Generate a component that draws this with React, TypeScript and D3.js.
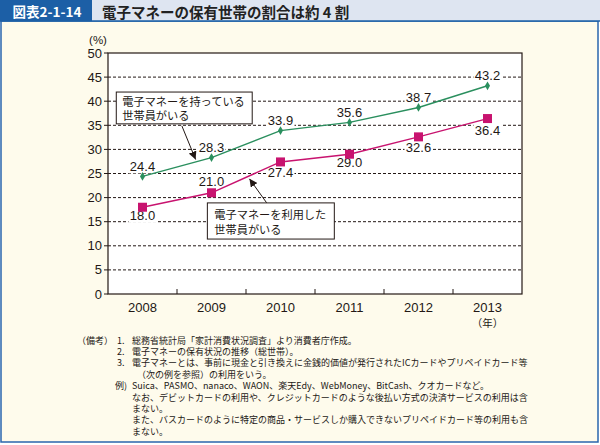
import React from "react";
import * as d3 from "d3";

const years = ["2008", "2009", "2010", "2011", "2012", "2013"];
const holdValues = [24.4, 28.3, 33.9, 35.6, 38.7, 43.2];
const usedValues = [18.0, 21.0, 27.4, 29.0, 32.6, 36.4];
const yTicks = [0, 5, 10, 15, 20, 25, 30, 35, 40, 45, 50];
const usedLabelSide = ["below", "above", "below", "below", "below", "below"];

const titleBadge = "図表2-1-14";
const titleText = "電子マネーの保有世帯の割合は約 4 割";
const holdCallout = ["電子マネーを持っている", "世帯員がいる"];
const usedCallout = ["電子マネーを利用した", "世帯員がいる"];
const notes = [
  { head: "（備考）", num: "1.", text: "総務省統計局「家計消費状況調査」より消費者庁作成。" },
  { head: "", num: "2.", text: "電子マネーの保有状況の推移（総世帯）。" },
  { head: "", num: "3.", text: "電子マネーとは、事前に現金と引き換えに金銭的価値が発行されたICカードやプリペイドカード等" },
  { head: "", num: "", text: "（次の例を参照）の利用をいう。", indent: true },
  { head: "", num: "例)", text: "Suica、PASMO、nanaco、WAON、楽天Edy、WebMoney、BitCash、クオカードなど。" },
  { head: "", num: "", text: "なお、デビットカードの利用や、クレジットカードのような後払い方式の決済サービスの利用は含" },
  { head: "", num: "", text: "まない。" },
  { head: "", num: "", text: "また、バスカードのように特定の商品・サービスしか購入できないプリペイドカード等の利用も含" },
  { head: "", num: "", text: "まない。" },
];

const W = 600;
const H = 445;
const plot = { left: 108, right: 522, top: 53, bottom: 294 };
const GREEN = "#2a8f5e";
const PINK = "#c8136f";
const JP = "'Noto Sans CJK JP', 'Noto Sans', sans-serif";
const NUM = "'Liberation Sans', Arial, sans-serif";

export default function App() {
  const x = d3.scaleBand<string>().domain(years).range([plot.left, plot.right]).padding(0);
  const cx = (i: number) => (x(years[0]) as number) + x.bandwidth() * (i + 0.5);
  const y = d3.scaleLinear().domain([0, 50]).range([plot.bottom, plot.top]);

  const line = d3
    .line<number>()
    .x((_, i) => cx(i))
    .y((d) => y(d));

  const diamond = d3.symbol().type(d3.symbolDiamond).size(22)();

  const labelBox = (lx: number, ly: number, txt: string, key: string) => (
    <g key={key}>
      <rect x={lx - 14} y={ly - 7} width={28} height={14} fill="#fff" />
      <text x={lx} y={ly} textAnchor="middle" dominantBaseline="central" fontFamily={NUM} fontSize={13} fill="#231815">
        {txt}
      </text>
    </g>
  );

  // callouts in data coordinates
  const c1 = { x0: cx(-0.38), x1: cx(1.59), y0: y(41.9), y1: y(35.3) };
  const c2 = { x0: cx(0.94), x1: cx(2.78), y0: y(18.9), y1: y(11.4) };

  return (
    <svg width={W} height={H} style={{ position: "absolute", left: 0, top: 0 }}>
      <defs>
        <marker id="ah" viewBox="0 0 10 10" refX="10" refY="5" markerWidth="8" markerHeight="8" orient="auto" markerUnits="userSpaceOnUse">
          <path d="M0,0 L10,5 L0,10 z" fill="#231815" />
        </marker>
      </defs>
      {/* background frame */}
      <rect x={1} y={21} width={597} height={421} fill="#fefbec" stroke="#2a66ad" strokeWidth={1.5} />
      {/* header */}
      <rect x={0} y={0} width={W} height={21} fill="#dee5f1" />
      <rect x={0} y={0} width={92} height={21} fill="#1c5fa6" />
      <line x1={0} x2={W} y1={21} y2={21} stroke="#1c5fa6" strokeWidth={1.5} />
      <text x={47} y={11} textAnchor="middle" dominantBaseline="central" fontFamily={JP} fontWeight="bold" fontSize={13.5} fill="#fff">
        {titleBadge}
      </text>
      <text x={102} y={11} dominantBaseline="central" fontFamily={JP} fontWeight="bold" fontSize={14.5} fill="#222">
        {titleText}
      </text>

      {/* plot */}
      <rect x={plot.left} y={plot.top} width={plot.right - plot.left} height={plot.bottom - plot.top} fill="#fff" />
      {yTicks.map((t) => (
        <g key={t}>
          {t > 0 && t < 50 && (
            <line x1={plot.left} x2={plot.right} y1={y(t)} y2={y(t)} stroke="#231815" strokeWidth={1} strokeDasharray="3,2" />
          )}
          <line x1={plot.left - 4} x2={plot.left} y1={y(t)} y2={y(t)} stroke="#231815" strokeWidth={1} />
          <text x={102} y={y(t)} textAnchor="end" dominantBaseline="central" fontFamily={NUM} fontSize={13} fill="#231815">
            {t}
          </text>
        </g>
      ))}
      <rect x={plot.left} y={plot.top} width={plot.right - plot.left} height={plot.bottom - plot.top} fill="none" stroke="#231815" strokeWidth={1.2} />
      {years.slice(1).map((yr) => (
        <line key={yr} x1={x(yr) as number} x2={x(yr) as number} y1={plot.bottom} y2={plot.bottom - 5} stroke="#231815" strokeWidth={1} />
      ))}
      {years.map((yr, i) => (
        <text key={yr} x={cx(i)} y={307} textAnchor="middle" dominantBaseline="central" fontFamily={NUM} fontSize={13} fill="#231815">
          {yr}
        </text>
      ))}
      <text x={cx(5)} y={322} textAnchor="middle" dominantBaseline="central" fontFamily={JP} fontSize={10.5} fill="#231815">
        （年）
      </text>
      <text x={98} y={40} textAnchor="middle" dominantBaseline="central" fontFamily={NUM} fontSize={11.5} fill="#231815">
        (%)
      </text>

      {/* data labels */}
      {holdValues.map((v, i) => labelBox(cx(i), y(v) - 10, v.toFixed(1), "h" + i))}
      {usedValues.map((v, i) =>
        labelBox(cx(i), y(v) + (usedLabelSide[i] === "above" ? -11 : i === 5 ? 12 : i === 2 || i === 4 ? 10.5 : 8.5), v.toFixed(1), "u" + i)
      )}

      {/* lines */}
      <path d={line(holdValues) as string} fill="none" stroke={GREEN} strokeWidth={1.4} />
      <path d={line(usedValues) as string} fill="none" stroke={PINK} strokeWidth={1.4} />
      {holdValues.map((v, i) => (
        <path key={i} d={diamond as string} transform={`translate(${cx(i)},${y(v)})`} fill={GREEN} />
      ))}
      {usedValues.map((v, i) => (
        <rect key={i} x={cx(i) - 4.5} y={y(v) - 4.5} width={9} height={9} fill={PINK} />
      ))}

      {/* callout 1 */}
      <line x1={cx(0.57)} y1={y(34.9)} x2={cx(0.77)} y2={y(27.9)} stroke="#231815" strokeWidth={1} markerEnd="url(#ah)" />
      <rect x={c1.x0} y={c1.y0} width={c1.x1 - c1.x0} height={c1.y1 - c1.y0} fill="#fff" stroke="#231815" strokeWidth={1} />
      {holdCallout.map((s, k) => (
        <text key={k} x={c1.x0 + 6} y={c1.y0 + 8.5 + k * 14.5} dominantBaseline="central" fontFamily={JP} fontSize={11.2} fill="#231815">
          {s}
        </text>
      ))}

      {/* callout 2 */}
      <line x1={cx(1.8)} y1={y(18.9)} x2={cx(1.55)} y2={y(23.9)} stroke="#231815" strokeWidth={1} markerEnd="url(#ah)" />
      <rect x={c2.x0} y={c2.y0} width={c2.x1 - c2.x0} height={c2.y1 - c2.y0} fill="#fff" stroke="#231815" strokeWidth={1} />
      {usedCallout.map((s, k) => (
        <text key={k} x={c2.x0 + 7} y={c2.y0 + 11 + k * 15} dominantBaseline="central" fontFamily={JP} fontSize={11.2} fill="#231815">
          {s}
        </text>
      ))}

      {/* notes */}
      {notes.map((n, k) => {
        const ly = 340 + k * 11.4;
        return (
          <g key={k} fontFamily={JP} fontSize={9} fill="#231815">
            {n.head && (
              <text x={77} y={ly} dominantBaseline="central">
                {n.head}
              </text>
            )}
            {n.num && (
              <text x={n.num === "例)" ? 115 : 117} y={ly} dominantBaseline="central">
                {n.num}
              </text>
            )}
            <text x={(n as any).indent ? 137 : 132} y={ly} dominantBaseline="central">
              {n.text}
            </text>
          </g>
        );
      })}
    </svg>
  );
}
